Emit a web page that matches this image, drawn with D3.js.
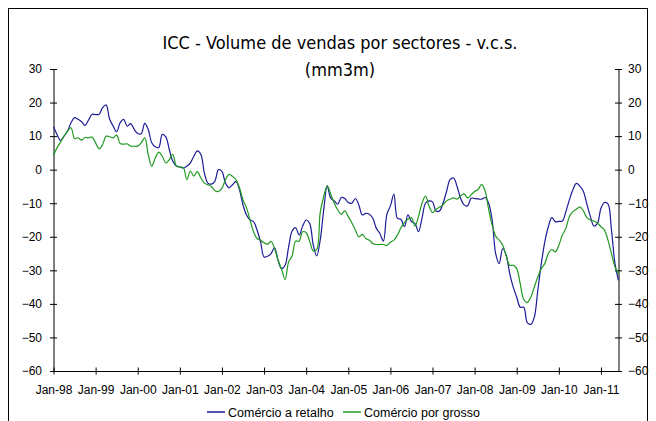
<!DOCTYPE html>
<html>
<head>
<meta charset="utf-8">
<script src="https://cdn.jsdelivr.net/npm/d3@7"></script>
<style>
  body { margin: 0; background: #fff; }
  svg { display: block; }
  text { font-family: "Liberation Sans", Arial, sans-serif; }
</style>
</head>
<body>
<svg id="chart"></svg>
<script>
// monthly, Jan-98 .. Jun-11
var tickLabels = ["Jan-98","Jan-99","Jan-00","Jan-01","Jan-02","Jan-03","Jan-04",
                  "Jan-05","Jan-06","Jan-07","Jan-08","Jan-09","Jan-10","Jan-11"];
var yTicks = [30, 20, 10, 0, -10, -20, -30, -40, -50, -60];
var seriesNames = ["Comércio a retalho", "Comércio por grosso"];

var retalho = [
  12.8, 10.5, 8.7, 10, 11.5, 14, 15.5, 15, 14.3, 13.2, 14.8, 16.5,
  16.4, 16.5, 18.5, 19.3, 15, 13, 11.3, 14, 15, 13, 13.7, 12,
  10.8, 10.7, 13.8, 12, 8, 6.8, 6.6, 10.5, 9.8, 6, 2.5, 1.1,
  0.8, 0.5, 1, 2, 4, 5.6, 4.5, -1, -4, -4.3, -3.4, 0,
  -0.5, -4, -5.4, -4.5, -3.5, -6, -10.5, -13.5, -15, -15.5, -18, -21.5,
  -26, -25.8, -25, -23.3, -27, -29.5, -28.5, -23, -18.3, -17.3, -19.5, -16.8,
  -15, -16, -22.3, -25.7, -21, -12, -4.8, -8.5, -9.3, -10.3, -8.3, -8.6,
  -9.8, -10, -8.6, -10.5, -13.5, -13, -13.3, -14.5, -17.5, -19, -21.3, -13.3,
  -10.8, -7.3, -14.5, -14.8, -17, -13.5, -15.5, -16, -18.5, -14.5, -10, -9.3,
  -9.6, -12.3, -12.3, -10, -6.5, -3, -2.5, -5, -8.5, -10.5, -10.8, -8.5,
  -8.6, -8.7, -8.8, -8.3, -10, -15, -25, -28, -23.5, -25.5, -31, -35,
  -38, -41, -41, -45.6, -46.1, -44, -36, -28, -21.5, -17, -14.3, -15.5,
  -15.4, -15.3, -12.5, -9, -6, -4.1, -4.9, -6.5, -10.3, -14, -16.8, -16,
  -11.5, -9.8, -10.2, -18, -28, -33
];

var grosso = [
  4.3, 6.5, 8.2, 10, 11.5, 12.5, 9.3, 9.5, 8.8, 9.6, 9.5, 9.7,
  8, 6.2, 7.5, 10, 9.8, 9.5, 10.3, 7.8, 7.6, 7.7, 7, 7,
  7, 8, 9.5, 4.5, 1, 3.5, 5.2, 4, 2, 3, 4.6, 1.1,
  0.8, 0.6, -3, -0.4, -1.9, -0.6, -2.5, -4, -4.5, -5, -6.3, -6.5,
  -5.5, -3, -1.4, -2, -3, -5.4, -9, -11.3, -15, -18.5, -20.5, -21,
  -21.8, -22.2, -21.4, -23.5, -27, -29.7, -32.7, -27.5, -25.7, -21.3, -21.3, -18.5,
  -18.8, -21.3, -24.2, -23.8, -12.8, -8, -4.8, -7.3, -10, -12, -13.3, -12.3,
  -14, -15.8, -18, -20, -19.3, -20.5, -21, -22, -22.3, -22.3, -22.3, -22.6,
  -21.6, -21, -19.5, -17.3, -15.8, -14.8, -14.3, -16.8, -14, -10, -7.9, -10.8,
  -12.8, -11.8, -11.2, -10.5, -9.3, -8.8, -8.4, -8.8, -7.8, -7.2, -8.4, -7.5,
  -6.5, -5.9, -4.4, -6.4, -11.8, -16.5, -19.8, -21, -22.5, -25.7, -28.5, -28.5,
  -29.5, -34, -38.7, -39.6, -38, -35, -32, -29.5, -28, -25, -23.8, -24.5,
  -22.5, -19.5, -17.5, -14, -12.5, -11.8, -11.1, -12.3, -14.3, -15, -15.3, -15.9,
  -17, -18, -21, -25, -29, -31
];

var colors = ["#1c1c96", "#229a22"];

var W = 656, H = 421;
var plotL = 53.5, plotR = 618.5, plotT = 69, plotB = 371;

var svg = d3.select("#chart").attr("width", W).attr("height", H);

// outer frame
svg.append("rect").attr("x", 8.5).attr("y", 8.5).attr("width", 639).attr("height", 430)
  .attr("fill", "none").attr("stroke", "#000").attr("stroke-width", 1);

// title
var titleFont = "'DejaVu Sans Condensed', 'DejaVu Sans', sans-serif";
svg.append("text").attr("x", 340).attr("y", 49).attr("text-anchor", "middle")
  .style("font-family", titleFont).style("font-size", "18px")
  .text("ICC - Volume de vendas por sectores - v.c.s.");
svg.append("text").attr("x", 340).attr("y", 76).attr("text-anchor", "middle")
  .style("font-family", titleFont).style("font-size", "18px")
  .text("(mm3m)");

var x = d3.scaleLinear().domain([0, retalho.length - 1]).range([plotL, plotR]);
var y = d3.scaleLinear().domain([-60, 30]).range([plotB, plotT]);

// axes
function styleAxis(g) {
  g.select(".domain").attr("stroke", "#000");
  g.selectAll(".tick line").attr("stroke", "#000");
  g.selectAll(".tick text").attr("fill", "#000").style("font-size", "12px");
}

var yLeft = svg.append("g").attr("transform", "translate(" + plotL + ",0)")
  .call(d3.axisLeft(y).tickValues(yTicks).tickSize(3.5).tickSizeOuter(0).tickPadding(8));
yLeft.selectAll(".tick line").attr("x2", -3.5).attr("x1", 3.5);
styleAxis(yLeft);

var yRight = svg.append("g").attr("transform", "translate(" + plotR + ",0)")
  .call(d3.axisRight(y).tickValues(yTicks).tickSize(3.5).tickSizeOuter(0).tickPadding(6));
yRight.selectAll(".tick line").attr("x1", -3.5).attr("x2", 3.5);
styleAxis(yRight);

var xTickIdx = tickLabels.map(function(d, i) { return i * 12; });
var xAxis = svg.append("g").attr("transform", "translate(0," + plotB + ")")
  .call(d3.axisBottom(x).tickValues(xTickIdx).tickSize(3.5).tickSizeOuter(0).tickPadding(11)
    .tickFormat(function(d) { return tickLabels[d / 12]; }));
xAxis.selectAll(".tick line").attr("y1", -3.5).attr("y2", 3.5);
styleAxis(xAxis);

// lines
var line = d3.line()
  .x(function(d, i) { return x(i); })
  .y(function(d) { return y(d); })
  .curve(d3.curveCatmullRom.alpha(0.5));

[retalho, grosso].forEach(function(s, k) {
  svg.append("path").datum(s).attr("d", line)
    .attr("fill", "none").attr("stroke", colors[k]).attr("stroke-width", 1.2);
});

// legend
var legend = svg.append("g").attr("transform", "translate(0,412)");
var lx = [207, 343];
seriesNames.forEach(function(name, k) {
  legend.append("line").attr("x1", lx[k]).attr("x2", lx[k] + 18).attr("y1", 0).attr("y2", 0)
    .attr("stroke", colors[k]).attr("stroke-width", 1.5);
  legend.append("text").attr("x", lx[k] + 21).attr("y", 4.5)
    .style("font-size", "12.5px").text(name);
});
</script>
</body>
</html>
